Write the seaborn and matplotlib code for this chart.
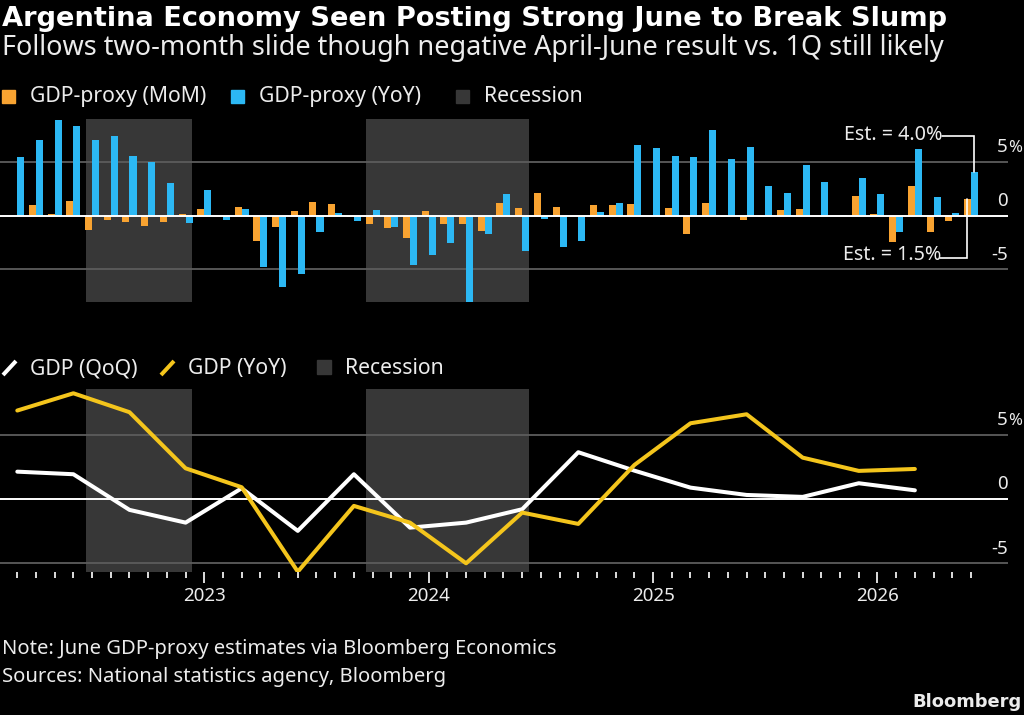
import numpy as np
import pandas as pd
import matplotlib
matplotlib.use("Agg")
import matplotlib.pyplot as plt
import matplotlib.transforms as mtransforms
from matplotlib.patches import Rectangle
from matplotlib.lines import Line2D
import seaborn as sns

# ---------------- data ----------------
months = pd.period_range("2022-03", "2026-06", freq="M").strftime("%Y-%m").tolist()

gdp_proxy_mom = [0.0, 1.0, 0.1, 1.3, -1.33, -0.4, -0.6, -0.93, -0.6, 0.15,
                 0.65, 0.0, 0.75, -2.4, -1.1, 0.38, 1.25, 1.05, -0.18, -0.8,
                 -1.2, -2.1, 0.4, -0.77, -0.77, -1.4, 1.2, 0.7, 2.07, 0.8,
                 0.0, 0.93, 1.0, 1.08, 0.0, 0.7, -1.67, 1.2, -0.15, -0.46,
                 -0.15, 0.55, 0.65, 0.0, -0.05, 1.85, 0.17, -2.48, 2.75, -1.5,
                 -0.48, 1.5]
gdp_proxy_yoy = [5.46, 6.98, 8.86, 8.33, 6.98, 7.35, 5.56, 5.0, 3.0, -0.7,
                 2.35, -0.4, 0.65, -4.75, -6.6, -5.4, -1.5, 0.25, -0.48, 0.55,
                 -1.1, -4.6, -3.7, -2.56, -8.0, -1.76, 2.0, -3.33, -0.34, -2.9,
                 -2.35, 0.3, 1.2, 6.54, 6.27, 5.56, 5.46, 7.93, 5.25, 6.36,
                 2.75, 2.05, 4.72, 3.15, 0.05, 3.45, 1.98, -1.5, 6.17, 1.68,
                 0.2, 4.0]

quarters = ["2022-03", "2022-06", "2022-09", "2022-12", "2023-03", "2023-06",
            "2023-09", "2023-12", "2024-03", "2024-06", "2024-09", "2024-12",
            "2025-03", "2025-06", "2025-09", "2025-12", "2026-03"]
gdp_qoq = [2.12, 1.92, -0.85, -1.84, 0.83, -2.48, 1.92, -2.23, -1.84, -0.8,
           3.63, 2.2, 0.88, 0.31, 0.16, 1.22, 0.67]
gdp_yoy = [6.87, 8.21, 6.74, 2.38, 0.91, -5.65, -0.54, -1.84, -5.0, -1.06,
           -1.94, 2.64, 5.88, 6.58, 3.21, 2.18, 2.33]

recessions = [("2022-07", "2022-12"), ("2023-10", "2024-06")]
year_labels = ["2023", "2024", "2025", "2026"]
grid_values = [5, 0, -5]
grid_labels = ["5", "0", "-5"]

title = "Argentina Economy Seen Posting Strong June to Break Slump"
subtitle = "Follows two-month slide though negative April-June result vs. 1Q still likely"
note = "Note: June GDP-proxy estimates via Bloomberg Economics"
source = "Sources: National statistics agency, Bloomberg"

# ---------------- style ----------------
ORANGE = "#F8A331"
BLUE = "#2CB8F4"
YELLOW = "#F4C51C"
SHADE = "#373737"
GRID = "#5c5c5c"
TEXT = "#ececec"

sns.set_theme(style="dark")
plt.rcParams["font.family"] = ["Noto Sans", "DejaVu Sans"]
plt.rcParams["figure.facecolor"] = "black"
plt.rcParams["axes.facecolor"] = "black"

W, H = 1024, 715
fig = plt.figure(figsize=(W / 100, H / 100), dpi=100)
fig.patch.set_facecolor("black")
renderer = fig.canvas.get_renderer()


def fx(x):
    return x / W


def fy(y):
    return 1 - y / H


def fit(t, width):
    bb = t.get_window_extent(renderer)
    t.set_fontsize(t.get_fontsize() * width / bb.width)


# axes placement (pixels)
XL, XR = 0, 1008
ax1 = fig.add_axes([fx(XL), fy(302), (XR - XL) / W, (302 - 119) / H])
ax2 = fig.add_axes([fx(XL), fy(572.3), (XR - XL) / W, (572.3 - 389.3) / H])

x_left = -0.925
x_right = 52.98

# ---------------- top panel: bars ----------------
df_bar = pd.DataFrame({
    "month": months * 2,
    "value": gdp_proxy_mom + gdp_proxy_yoy,
    "series": ["GDP-proxy (MoM)"] * len(months) + ["GDP-proxy (YoY)"] * len(months),
})
sns.barplot(data=df_bar, x="month", y="value", hue="series", order=months,
            hue_order=["GDP-proxy (MoM)", "GDP-proxy (YoY)"],
            palette=[ORANGE, BLUE], width=0.75, errorbar=None, legend=False,
            saturation=1, linewidth=0, edgecolor="none", ax=ax1, zorder=2)

for start, end in recessions:
    for ax in (ax1, ax2):
        ax.axvspan(months.index(start) - 0.35, months.index(end) + 0.36,
                   color=SHADE, lw=0, zorder=0)

ax1.set_xlim(x_left, x_right)
ax1.set_ylim(-8.02, 8.95)
ax2.set_xlim(x_left, x_right)
ax2.set_ylim(-5.70, 8.52)

for ax in (ax1, ax2):
    ax.set_facecolor("black")
    for s in ax.spines.values():
        s.set_visible(False)
    ax.set_xlabel("")
    ax.set_ylabel("")
    ax.grid(False)
    ax.tick_params(left=False, labelleft=False)
    for v, lab in zip(grid_values, grid_labels):
        if v == 0:
            ax.axhline(v, color="white", lw=1.4, zorder=3 if ax is ax1 else 1.5)
        else:
            ax.axhline(v, color=GRID, lw=1.3, zorder=1)
        tr = mtransforms.offset_copy(
            mtransforms.blended_transform_factory(ax.transAxes, ax.transData),
            fig=fig, x=0, y=9.5, units="dots")
        ax.text(1.0, v, lab, transform=tr, ha="right", va="baseline",
                color=TEXT, fontsize=13.5)
        if v == max(grid_values):
            ax.text(1.0, v, "%", transform=tr, ha="left", va="baseline",
                    color=TEXT, fontsize=12)

ax1.set_xticks([])

# annotation for latest estimates
last = len(months) - 1
x_blue = last + 0.1875
x_orange = last - 0.1875
x_txt = 49.45
y_hi = 7.38
y_lo = -3.94
ax1.plot([x_txt, x_blue, x_blue], [y_hi, y_hi, gdp_proxy_yoy[-1]],
         color="white", lw=1.2, zorder=4, solid_joinstyle="miter")
ax1.plot([x_txt - 0.1, x_orange, x_orange], [y_lo, y_lo, gdp_proxy_mom[-1]],
         color="white", lw=1.2, zorder=4, solid_joinstyle="miter")
t_hi = ax1.text(x_txt + 0.05, y_hi + 0.1, f"Est. = {gdp_proxy_yoy[-1]:.1f}%",
                ha="right", va="center", color=TEXT, fontsize=13.5, zorder=5)
t_lo = ax1.text(x_txt - 0.05, y_lo + 0.25, f"Est. = {gdp_proxy_mom[-1]:.1f}%",
                ha="right", va="center", color=TEXT, fontsize=13.5, zorder=5)

# ---------------- bottom panel: lines ----------------
qx = [months.index(q) for q in quarters]
df_line = pd.DataFrame({
    "x": qx * 2,
    "value": gdp_qoq + gdp_yoy,
    "series": ["GDP (QoQ)"] * len(qx) + ["GDP (YoY)"] * len(qx),
})
sns.lineplot(data=df_line, x="x", y="value", hue="series",
             hue_order=["GDP (QoQ)", "GDP (YoY)"], palette=["white", YELLOW],
             lw=2.9, legend=False, ax=ax2, zorder=3)
ax2.set_xlim(x_left, x_right)
ax2.set_ylim(-5.70, 8.52)
ax2.set_xlabel("")
ax2.set_ylabel("")

ax2.set_xticks([months.index(y + "-01") for y in year_labels])
ax2.set_xticklabels(year_labels)
ax2.set_xticks(range(len(months)), minor=True)
ax2.tick_params(axis="x", which="major", length=7.9, width=1.4, color="#dddddd",
                labelcolor=TEXT, labelsize=13.5, pad=2.5, bottom=True)
ax2.tick_params(axis="x", which="minor", length=4.3, width=1.4, color="#dddddd",
                bottom=True)

# ---------------- texts ----------------
t = fig.text(fx(2), fy(26), title, fontsize=16, weight="bold", color="white",
             ha="left", va="baseline", family=["DejaVu Sans"])
fit(t, 949)
t = fig.text(fx(2), fy(55), subtitle, fontsize=15, color=TEXT,
             ha="left", va="baseline")
fit(t, 944)

# legend top
items_top = [(ORANGE, 2, "GDP-proxy (MoM)", 30), (BLUE, 231, "GDP-proxy (YoY)", 259),
             (SHADE, 456, "Recession", 484)]
leg_fs = None
for col, sx, lab, tx in items_top:
    fig.patches.append(Rectangle((fx(sx), fy(103)), 13 / W, 13 / H, color=col,
                                 transform=fig.transFigure, figure=fig))
    tt = fig.text(fx(tx), fy(102), lab, fontsize=14, color=TEXT,
                  ha="left", va="baseline")
    if leg_fs is None:
        fit(tt, 177)
        leg_fs = tt.get_fontsize()
    else:
        tt.set_fontsize(leg_fs)

# legend bottom
items_bot = [("line", "white", 2, "GDP (QoQ)", 30), ("line", YELLOW, 160, "GDP (YoY)", 188),
             ("box", SHADE, 317, "Recession", 345)]
for kind, col, sx, lab, tx in items_bot:
    if kind == "line":
        fig.lines.append(Line2D([fx(sx + 1), fx(sx + 14)], [fy(375), fy(361)],
                                color=col, lw=2.9, transform=fig.transFigure,
                                figure=fig, solid_capstyle="butt"))
    else:
        fig.patches.append(Rectangle((fx(sx), fy(374)), 14 / W, 14 / H, color=col,
                                     transform=fig.transFigure, figure=fig))
    fig.text(fx(tx), fy(374), lab, fontsize=leg_fs, color=TEXT,
             ha="left", va="baseline")

t = fig.text(fx(2), fy(654), note, fontsize=13, color=TEXT, ha="left", va="baseline")
fit(t, 556)
note_fs = t.get_fontsize()
t = fig.text(fx(2), fy(682), source, fontsize=note_fs, color=TEXT, ha="left", va="baseline")
t = fig.text(fx(1022), fy(707), "Bloomberg", fontsize=13, weight="bold", color=TEXT,
             ha="right", va="baseline", family=["DejaVu Sans"])
fit(t, 109)

fit(t_hi, 99)
t_lo.set_fontsize(t_hi.get_fontsize())

fig.savefig("out.png", dpi=100, facecolor="black")
